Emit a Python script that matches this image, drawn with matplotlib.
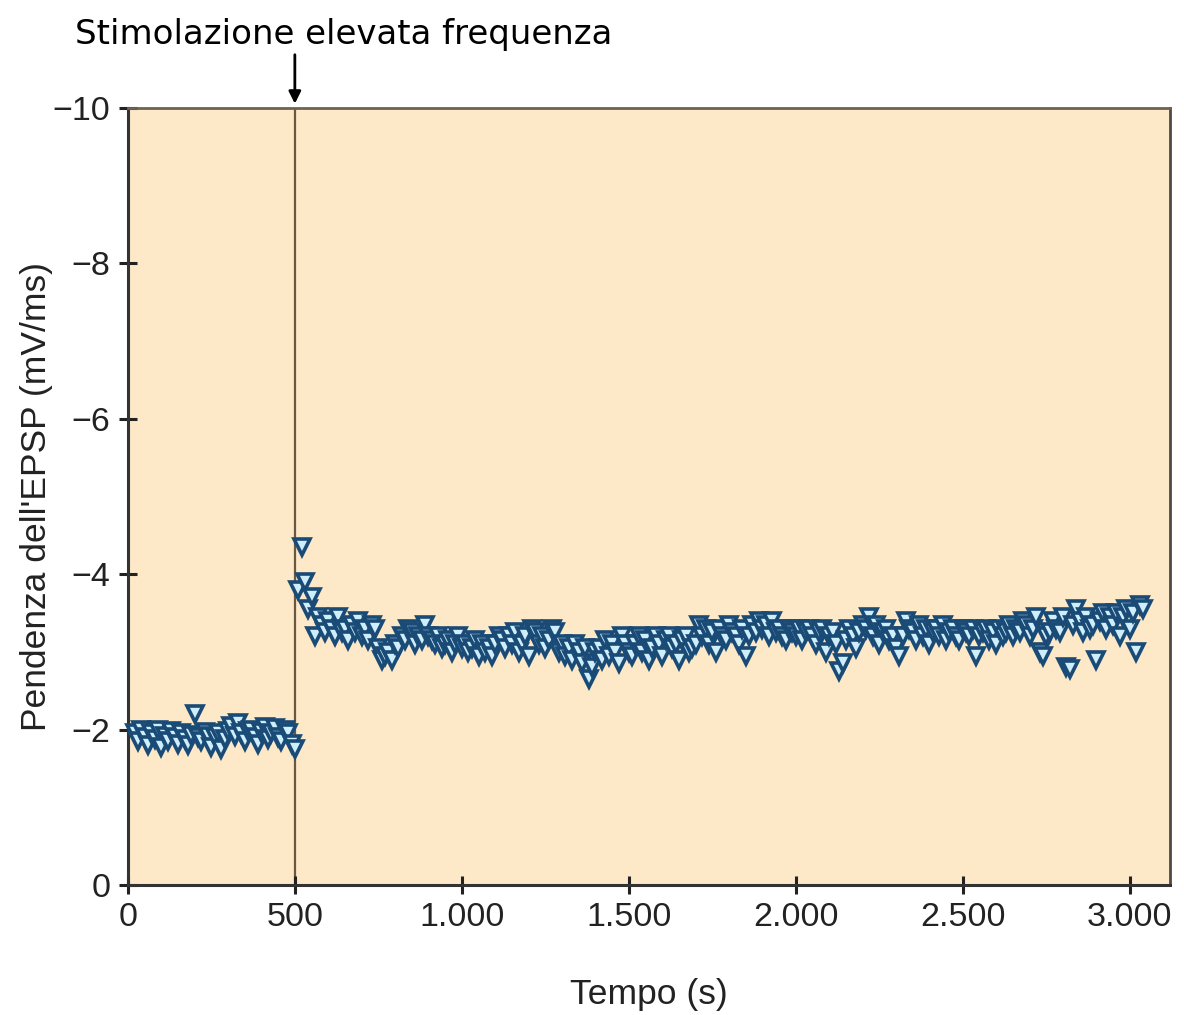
import numpy as np
import matplotlib
matplotlib.use("Agg")
import matplotlib.pyplot as plt

# ---- data ----
pre_start, pre_step = 20, 10
pre_values = [
    -1.95, -1.85, -2.0, -1.9, -1.8, -1.95, -1.88, -2.0, -1.78, -1.92,
    -1.85, -1.98, -1.9, -1.82, -1.95, -1.88, -1.8, -1.93, -2.2, -1.9,
    -1.85, -1.97, -1.92, -1.78, -1.9, -1.95, -1.75, -1.88, -1.98, -2.05,
    -1.92, -2.08, -1.95, -1.85, -1.98, -2.0, -1.9, -1.82, -1.97, -2.03,
    -1.88, -1.95, -2.02, -1.9, -1.85, -2.0, -1.95, -1.82, -1.75,
]
post_start, post_step = 510, 10
post_values = [
    -3.8, -4.35, -3.9, -3.55, -3.7, -3.2, -3.45, -3.35, -3.25, -3.4,
    -3.3, -3.2, -3.45, -3.25, -3.3, -3.15, -3.35, -3.25, -3.4, -3.2,
    -3.3, -3.15, -3.35, -3.3, -3.05, -2.9, -2.95, -3.0, -2.9, -3.1,
    -3.05, -3.2, -3.15, -3.3, -3.25, -3.1, -3.2, -3.15, -3.35, -3.2,
    -3.15, -3.1, -3.2, -3.05, -3.1, -3.15, -3.0, -3.1, -3.2, -3.05,
    -3.1, -3.0, -3.05, -3.15, -2.95, -3.1, -3.0, -3.05, -2.95, -3.1,
    -3.2, -3.15, -3.05, -3.2, -3.1, -3.25, -3.0, -3.1, -3.2, -2.95,
    -3.3, -3.25, -3.1, -3.2, -3.05, -3.15, -3.3, -3.25, -3.0, -3.1,
    -2.95, -3.05, -2.9, -3.1, -3.0, -2.85, -3.05, -2.65, -2.8, -3.0,
    -3.05, -2.9, -3.15, -2.95, -3.1, -3.0, -2.85, -3.2, -3.1, -3.0,
    -2.95, -3.1, -3.2, -3.0, -3.15, -2.9, -3.05, -3.2, -3.1, -2.95,
    -3.15, -3.2, -3.05, -3.1, -2.9, -3.15, -3.2, -3.0, -3.05, -3.1,
    -3.35, -3.2, -3.3, -3.1, -3.25, -3.0, -3.3, -3.2, -3.15, -3.35,
    -3.25, -3.2, -3.1, -3.3, -2.95, -3.2, -3.35, -3.25, -3.4, -3.3,
    -3.35, -3.2, -3.4, -3.25, -3.3, -3.2, -3.15, -3.3, -3.25, -3.2,
    -3.3, -3.15, -3.25, -3.3, -3.2, -3.1, -3.25, -3.3, -3.0, -3.2,
    -3.25, -3.1, -2.75, -2.85, -3.15, -3.3, -3.2, -3.05, -3.25, -3.35,
    -3.3, -3.45, -3.2, -3.35, -3.1, -3.25, -3.3, -3.15, -3.2, -3.05,
    -2.95, -3.2, -3.4, -3.3, -3.25, -3.15, -3.35, -3.2, -3.3, -3.1,
    -3.25, -3.3, -3.2, -3.35, -3.15, -3.25, -3.3, -3.2, -3.15, -3.3,
    -3.25, -3.2, -3.3, -2.95, -3.2, -3.25, -3.3, -3.15, -3.25, -3.1,
    -3.3, -3.2, -3.25, -3.35, -3.2, -3.3, -3.25, -3.4, -3.35, -3.2,
    -3.3, -3.45, -3.0, -2.95, -3.2, -3.25, -3.4, -3.3, -3.25, -3.45,
    -2.8, -2.78, -3.35, -3.55, -3.4, -3.25, -3.45, -3.3, -3.35, -2.9,
    -3.4, -3.5, -3.3, -3.45, -3.35, -3.5, -3.2, -3.45, -3.55, -3.3,
    -3.5, -3.0, -3.6, -3.55,
]
stim_time = 500
x_ticks = [0, 500, 1000, 1500, 2000, 2500, 3000]
x_ticklabels = ["0", "500", "1.000", "1.500", "2.000", "2.500", "3.000"]
y_ticks = [0, -2, -4, -6, -8, -10]
y_ticklabels = ["0", "\u22122", "\u22124", "\u22126", "\u22128", "\u221210"]
title_text = "Stimolazione elevata frequenza"
x_label = "Tempo (s)"
y_label = "Pendenza dell'EPSP (mV/ms)"

pre_t = pre_start + pre_step * np.arange(len(pre_values))
post_t = post_start + post_step * np.arange(len(post_values))
t = np.concatenate([pre_t, post_t])
v = np.array(pre_values + post_values)

# ---- figure ----
plt.rcParams['font.family'] = ['Liberation Sans', 'DejaVu Sans']
fig = plt.figure(figsize=(11.84, 10.15), dpi=100)
ax = fig.add_axes([0.108, 0.128, 0.880, 0.766])
ax.set_facecolor('#fde8c8')

ax.axvline(stim_time, color='#6b5840', lw=1.6, zorder=1)
ax.plot(t, v, linestyle='none', marker='v', markersize=11,
        markerfacecolor='#cdeefa', markeredgecolor='#1a4a76',
        markeredgewidth=2.6, zorder=3, clip_on=False)

ax.set_xlim(0, 3120)
ax.set_ylim(0, -10)
ax.set_xticks(x_ticks)
ax.set_xticklabels(x_ticklabels)
ax.set_yticks(y_ticks)
ax.set_yticklabels(y_ticklabels)
ax.tick_params(axis='both', direction='inout', length=13, width=2.2,
               labelsize=24.5, colors='#222222', pad=6)

for side in ['left', 'bottom']:
    ax.spines[side].set_linewidth(2.2)
    ax.spines[side].set_color('#333333')
ax.spines['top'].set_color('#6e6352')
ax.spines['top'].set_linewidth(2.0)
ax.spines['right'].set_color('#4a4a4a')
ax.spines['right'].set_linewidth(2.0)

ax.set_xlabel(x_label, fontsize=25.5, color='#222222', labelpad=32)
ax.set_ylabel(y_label, fontsize=25.5, color='#222222')
ax.yaxis.set_label_coords(-0.072, 0.5)

# arrow marking stimulation
ax.annotate('', xy=(stim_time, 1.005), xycoords=('data', 'axes fraction'),
            xytext=(stim_time, 1.068), textcoords=('data', 'axes fraction'),
            arrowprops=dict(arrowstyle='-|>', color='black', lw=2,
                            mutation_scale=18, shrinkA=0, shrinkB=0),
            annotation_clip=False)

fig.text(0.063, 0.966, title_text, fontsize=24.5, family='DejaVu Sans',
         va='center', ha='left', color='black')

fig.savefig('out.png', dpi=100, facecolor='white')
